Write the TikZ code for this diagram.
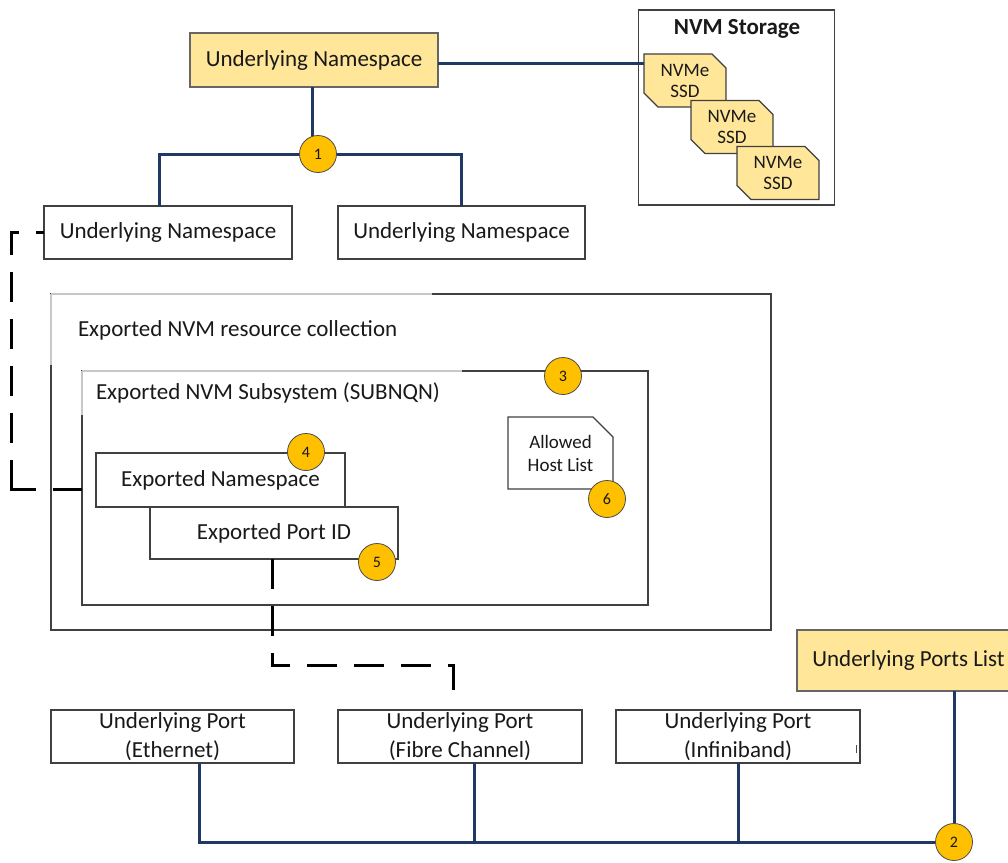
\documentclass[tikz,border=0pt]{standalone}
\usepackage{fontspec}
\setmainfont{Carlito}
\usetikzlibrary{shapes.misc}
\definecolor{navy}{HTML}{1F3864}
\definecolor{boxedge}{HTML}{404040}
\definecolor{paleyellow}{HTML}{FFE699}
\definecolor{gold}{HTML}{FFC000}
\definecolor{lightedge}{HTML}{C8C8C8}
\begin{document}
\begin{tikzpicture}[x=1pt,y=-1pt,
  every node/.style={font=\fontsize{23}{29}\selectfont, inner sep=0pt, outer sep=0pt, text=black!90},
  plainbox/.style={draw=boxedge, line width=1.4pt, fill=white, rectangle, align=center},
  yellowbox/.style={plainbox, fill=paleyellow, draw=black!60},
  framebox/.style={draw=boxedge, line width=1.4pt, rectangle},
  badge/.style={circle, draw=black!70, line width=0.8pt, fill=gold, minimum size=37pt, font=\fontsize{16}{16}\selectfont},
  ssdbox/.style={chamfered rectangle, chamfered rectangle corners={north east,south west},
    chamfered rectangle xsep=7pt, chamfered rectangle ysep=7pt,
    draw=boxedge, line width=1.2pt, fill=paleyellow, minimum width=82pt, minimum height=53pt,
    align=center, font=\fontsize{19}{21}\selectfont},
  hostbox/.style={chamfered rectangle, chamfered rectangle corners={north east},
    chamfered rectangle xsep=10pt, chamfered rectangle ysep=10pt,
    draw=boxedge, line width=1.4pt, fill=white, minimum width=105pt, minimum height=72pt,
    align=center, font=\fontsize{19}{23}\selectfont},
  link/.style={draw=navy, line width=3pt},
  dashlink/.style={draw=black, line width=3pt, dash pattern=on 30pt off 17pt}]
\useasboundingbox (0,0) rectangle (1008,862);
\clip (0,0) rectangle (1008,862);

% top part
\node[yellowbox, minimum width=248pt, minimum height=54pt] (uns) at (314,60) {Underlying Namespace};
\node[plainbox, minimum width=248pt, minimum height=53pt] (ns1) at (168,232.5) {Underlying Namespace};
\node[plainbox, minimum width=247pt, minimum height=53pt] (ns2) at (461.5,232.5) {Underlying Namespace};

\node[framebox, fill=white, minimum width=196pt, minimum height=195pt] (stor) at (736.5,107.5) {};
\node[font=\bfseries\fontsize{23}{29}\selectfont] (stortitle) at (737,29) {NVM Storage};
\node[ssdbox] (ssd1) at (685,80.5) {NVMe\\SSD};
\node[ssdbox] (ssd2) at (732,127) {NVMe\\SSD};
\node[ssdbox] (ssd3) at (778,173) {NVMe\\SSD};

\coordinate (p1) at (318,154);
\draw[link] ([yshift=-3pt]uns.east) -- ([yshift=-3pt]uns.east -| ssd1.west);
\draw[link] ([xshift=-2pt]uns.south) -- ([xshift=-2pt]uns.south |- p1);
\draw[link] (p1) -| ([xshift=-9pt]ns1.north);
\draw[link] (p1) -| ([xshift=-0.5pt]ns2.north);
\node[badge] (b1) at (p1) {1};

% exported collection
\node[framebox, minimum width=720pt, minimum height=336pt] (res) at (411,462) {};
\draw[lightedge, line width=1.4pt] (res.north west) -- ++(381,0);
\draw[lightedge, line width=1.4pt] (res.north west) -- ++(0,71);
\node[anchor=west] (reslbl) at (78,330) {Exported NVM resource collection};

\node[framebox, minimum width=566pt, minimum height=234pt] (sub) at (365,488) {};
\draw[lightedge, line width=1.4pt] (sub.north west) -- ++(380,0);
\draw[lightedge, line width=1.4pt] (sub.north west) -- ++(0,44);
\node[anchor=west] (sublbl) at (96,393) {Exported NVM Subsystem (SUBNQN)};

\node[plainbox, minimum width=249pt, minimum height=54pt] (ens) at (220.5,480) {Exported Namespace};
\node[plainbox, minimum width=248pt, minimum height=52pt] (epid) at (274,533) {Exported Port ID};
\node[hostbox] (ahl) at (560.5,453) {Allowed\\Host List};

\node[badge] (b3) at (563,376) {3};
\node[badge] (b4) at (306,452) {4};
\node[badge] (b5) at (377,562) {5};
\node[badge] (b6) at (607,499) {6};

% dashed links
\coordinate (d1) at (11,232.5);
\coordinate (d2) at (11,489);
\draw[dashlink, dash pattern=on 8pt off 17pt on 30pt off 17pt on 30pt off 17pt on 30pt off 17pt on 30pt off 17pt on 30pt off 17pt on 54pt off 17pt on 30pt off 17pt]
  (ns1.west) -- (d1) -- (d2) -- (d2 -| sub.west);
\coordinate (d4) at (453,665);
\coordinate (d5) at (453,694);
\draw[dashlink] ([xshift=-2pt]epid.south) |- (d4) -- (d5);

% bottom part
\node[plainbox, minimum width=243pt, minimum height=53pt] (peth) at (172.5,736.5) {Underlying Port\\(Ethernet)};
\node[plainbox, minimum width=244pt, minimum height=53pt] (pfc) at (460,736.5) {Underlying Port\\(Fibre Channel)};
\node[plainbox, minimum width=244pt, minimum height=53pt] (pib) at (738,736.5) {Underlying Port\\(Infiniband)};
\draw[black!70, line width=1pt] ([xshift=-4pt,yshift=-8.5pt]pib.east) -- ++(0,8);
\node[yellowbox, minimum width=223pt, minimum height=61pt] (upl) at (908.5,660.5) {Underlying Ports List};

\coordinate (p2) at (954,842);
\draw[link] (upl.south -| p2) -- (p2);
\draw[link] ([xshift=26.5pt]peth.south) |- (p2);
\draw[link] ([xshift=14pt]pfc.south) -- ([xshift=14pt]pfc.south |- p2);
\draw[link] (pib.south) -- (pib.south |- p2);
\node[badge] (b2) at (p2) {2};
\end{tikzpicture}
\end{document}
